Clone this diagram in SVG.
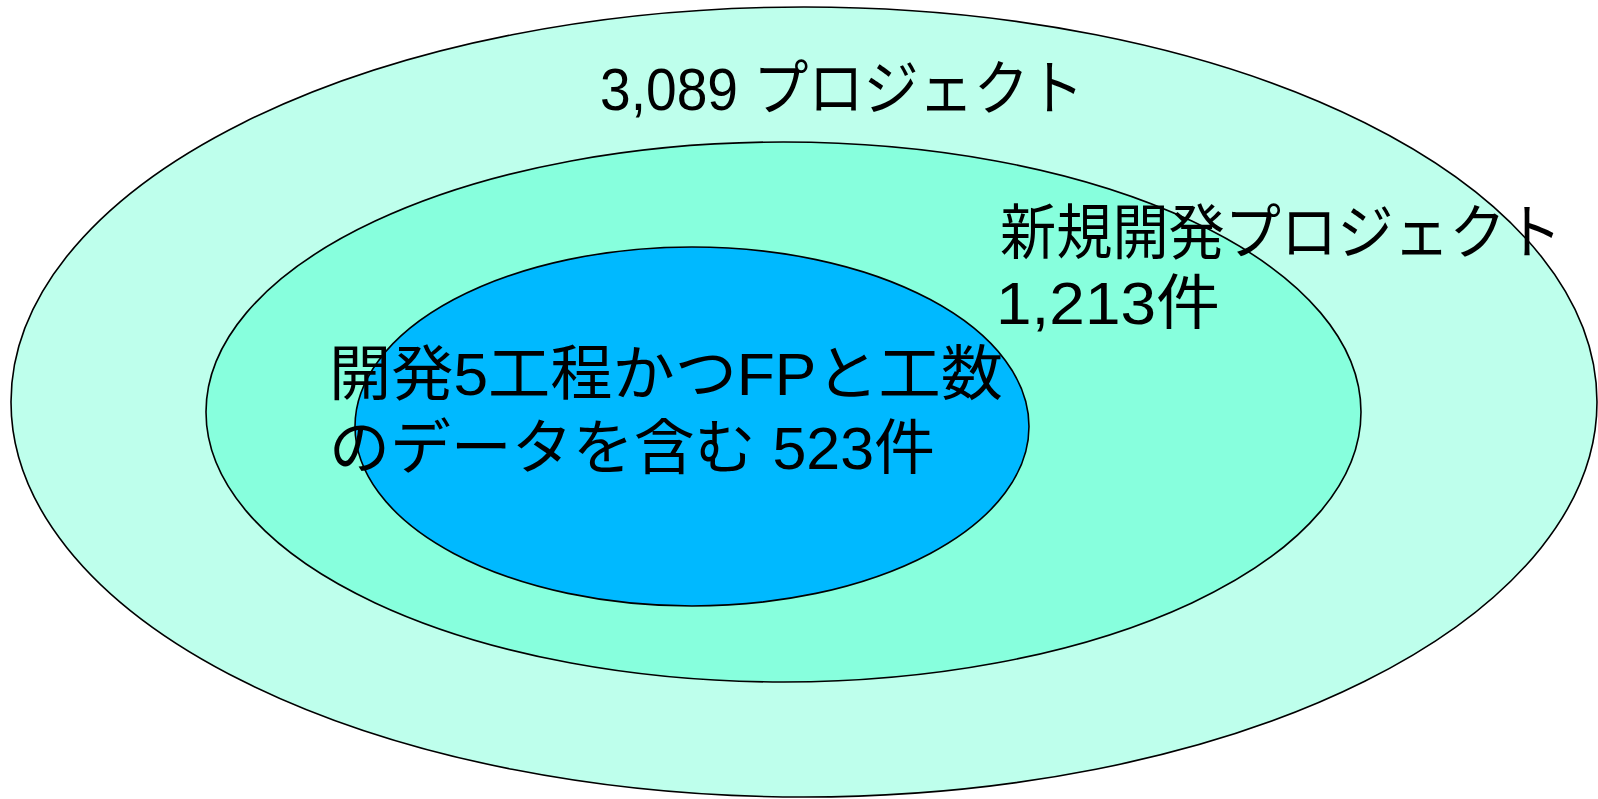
<svg xmlns="http://www.w3.org/2000/svg" width="1598" height="799" viewBox="0 0 1598 799">
<style>
.e{stroke:#000;stroke-width:1.6}
.t{font-family:"Liberation Sans","Noto Sans CJK JP",sans-serif;font-size:60px;fill:#000}
</style>
<rect width="1598" height="799" fill="#fff"/>
<g id="outer"><ellipse class="e" cx="804" cy="402" rx="793" ry="395" fill="#BEFFEC"/></g>
<g id="middle"><ellipse class="e" cx="783.5" cy="412" rx="577.5" ry="270" fill="#87FFDD"/></g>
<g id="inner"><ellipse class="e" cx="692" cy="426.5" rx="337" ry="179.5" fill="#00B9FF"/></g>
<g id="connectors"></g>
<g id="labels">
<text class="t" x="600" y="110" textLength="484" lengthAdjust="spacingAndGlyphs">3,089 プロジェクト</text>
<text class="t" x="1000" y="254" textLength="562" lengthAdjust="spacingAndGlyphs">新規開発プロジェクト</text>
<text class="t" x="996" y="324" textLength="224" lengthAdjust="spacingAndGlyphs">1,213件</text>
<text class="t" x="329" y="395" textLength="674" lengthAdjust="spacingAndGlyphs">開発5工程かつFPと工数</text>
<text class="t" x="329" y="469" textLength="606" lengthAdjust="spacingAndGlyphs">のデータを含む 523件</text>
</g>
</svg>
